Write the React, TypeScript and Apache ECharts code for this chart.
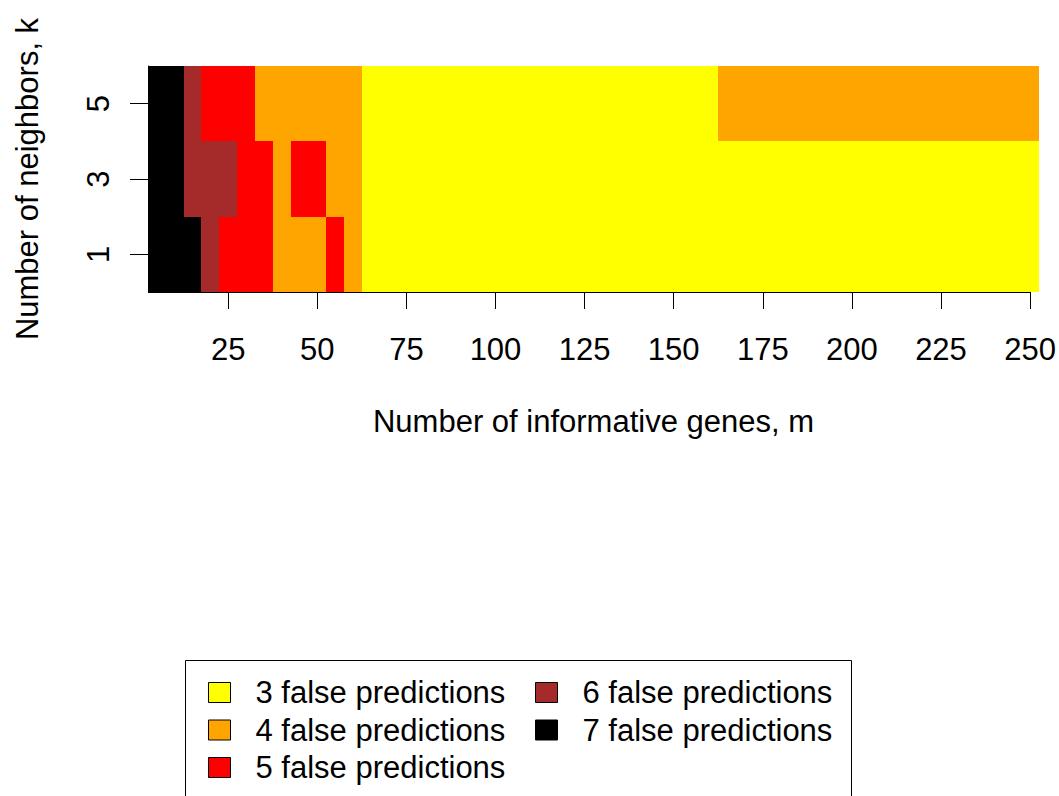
import React, { useEffect, useRef } from "react";
import * as echarts from "echarts";

// Number of informative genes (m), one cell per value
const mValues = [
  5, 10, 15, 20, 25, 30, 35, 40, 45, 50,
  55, 60, 65, 70, 75, 80, 85, 90, 95, 100,
  105, 110, 115, 120, 125, 130, 135, 140, 145, 150,
  155, 160, 165, 170, 175, 180, 185, 190, 195, 200,
  205, 210, 215, 220, 225, 230, 235, 240, 245, 250,
];

// Number of neighbors (k), one row per value
const kValues = [1, 3, 5];

// False predictions for each m, per k
const errorsK1 = [
  7, 7, 7, 6, 5, 5, 5, 4, 4, 4,
  5, 4, 3, 3, 3, 3, 3, 3, 3, 3,
  3, 3, 3, 3, 3, 3, 3, 3, 3, 3,
  3, 3, 3, 3, 3, 3, 3, 3, 3, 3,
  3, 3, 3, 3, 3, 3, 3, 3, 3, 3,
];
const errorsK3 = [
  7, 7, 6, 6, 6, 5, 5, 4, 5, 5,
  4, 4, 3, 3, 3, 3, 3, 3, 3, 3,
  3, 3, 3, 3, 3, 3, 3, 3, 3, 3,
  3, 3, 3, 3, 3, 3, 3, 3, 3, 3,
  3, 3, 3, 3, 3, 3, 3, 3, 3, 3,
];
const errorsK5 = [
  7, 7, 6, 5, 5, 5, 4, 4, 4, 4,
  4, 4, 3, 3, 3, 3, 3, 3, 3, 3,
  3, 3, 3, 3, 3, 3, 3, 3, 3, 3,
  3, 3, 4, 4, 4, 4, 4, 4, 4, 4,
  4, 4, 4, 4, 4, 4, 4, 4, 4, 4,
];
const errorRows = [errorsK1, errorsK3, errorsK5];

// Classes of the colour key
const errorLevels = [3, 4, 5, 6, 7];
const levelNames = [
  "3 false predictions",
  "4 false predictions",
  "5 false predictions",
  "6 false predictions",
  "7 false predictions",
];
const levelColors = ["#FFFF00", "#FFA500", "#FF0000", "#A52A2A", "#000000"];

// Axis ticks
const xTicks = [25, 50, 75, 100, 125, 150, 175, 200, 225, 250];
const yTicks = [1, 3, 5];

const FONT = "'Liberation Sans', Arial, Helvetica, sans-serif";
const FS = 31;

export default function App() {
  const ref = useRef<HTMLDivElement>(null);

  useEffect(() => {
    if (!ref.current) return;
    const chart = echarts.init(ref.current, undefined, { renderer: "svg" });

    const mStep = mValues[1] - mValues[0];
    const kStep = kValues[1] - kValues[0];
    const halfW = mStep / 2;
    const halfH = kStep / 2;
    const xMin = mValues[0] - halfW;
    const xMax = mValues[mValues.length - 1] + halfW;
    const yMin = kValues[0] - halfH;
    const yMax = kValues[kValues.length - 1] + halfH;

    const series: any[] = errorLevels.map((lvl, li) => {
      const data: number[][] = [];
      kValues.forEach((k, ki) => {
        mValues.forEach((m, mi) => {
          if (errorRows[ki][mi] === lvl) data.push([m, k, lvl]);
        });
      });
      const color = levelColors[li];
      const s: any = {
        type: "custom",
        name: levelNames[li],
        coordinateSystem: "cartesian2d",
        itemStyle: { color },
        encode: { x: 0, y: 1 },
        data,
        renderItem: (params: any, api: any) => {
          const m = api.value(0);
          const k = api.value(1);
          const p0 = api.coord([m - halfW, k + halfH]);
          const p1 = api.coord([m + halfW, k - halfH]);
          const x0 = Math.round(p0[0]);
          const y0 = Math.round(p0[1]);
          const x1 = Math.round(p1[0]);
          const y1 = Math.round(p1[1]);
          return {
            type: "rect",
            shape: { x: x0, y: y0, width: x1 - x0, height: y1 - y0 },
            style: { fill: color },
          };
        },
      };
      return s;
    });

    // x axis line, drawn from the left of the image to the last tick (R style)
    series.push({
      type: "line",
      name: "axisline",
      data: [],
      silent: true,
      z: 10,
      markLine: {
        silent: true,
        symbol: "none",
        label: { show: false },
        lineStyle: { color: "#000", width: 1, type: "solid" },
        data: [[{ coord: [xMin, yMin] }, { coord: [xTicks[xTicks.length - 1], yMin] }]],
      },
    });

    const legendCommon = {
      orient: "vertical",
      itemWidth: 22,
      itemHeight: 20,
      itemGap: 6.5,
      padding: 0,
      icon: "rect",
      selectedMode: false,
      itemStyle: { borderColor: "#000", borderWidth: 1 },
      textStyle: {
        fontFamily: FONT,
        fontSize: FS,
        color: "#000",
        lineHeight: 30,
        padding: [0, 0, 0, 20],
      },
    };

    chart.setOption({
      animation: false,
      backgroundColor: "#fff",
      textStyle: { fontFamily: FONT },
      grid: { left: 148, top: 66, width: 891, height: 226 },
      xAxis: {
        type: "value",
        min: xMin,
        max: xMax,
        name: "Number of informative genes, m",
        nameLocation: "middle",
        nameGap: 114,
        nameTextStyle: { fontFamily: FONT, fontSize: FS, color: "#000" },
        axisLine: { show: false },
        axisTick: {
          show: true,
          length: 17,
          customValues: xTicks,
          lineStyle: { color: "#000", width: 1 },
        },
        axisLabel: {
          customValues: xTicks,
          fontFamily: FONT,
          fontSize: FS,
          color: "#000",
          margin: 42,
        },
        splitLine: { show: false },
      },
      yAxis: {
        type: "value",
        min: yMin,
        max: yMax,
        name: "Number of neighbors, k",
        nameLocation: "middle",
        nameGap: 105,
        nameRotate: 90,
        nameTextStyle: { fontFamily: FONT, fontSize: FS, color: "#000" },
        axisLine: { show: true, lineStyle: { color: "#000", width: 1 } },
        axisTick: {
          show: true,
          length: 18,
          customValues: yTicks,
          lineStyle: { color: "#000", width: 1 },
        },
        axisLabel: {
          customValues: yTicks,
          rotate: 90,
          fontFamily: FONT,
          fontSize: FS,
          color: "#000",
          margin: 34,
        },
        splitLine: { show: false },
      },
      legend: [
        { ...legendCommon, left: 208, top: 677, data: levelNames.slice(0, 3) },
        { ...legendCommon, left: 535, top: 677, data: levelNames.slice(3) },
      ],
      graphic: [
        {
          type: "rect",
          left: 183,
          top: 658,
          shape: { width: 666, height: 200 },
          style: { fill: "none", stroke: "#000", lineWidth: 1 },
          silent: true,
        },
      ],
      series,
    });

    return () => chart.dispose();
  }, []);

  return (
    <div
      ref={ref}
      style={{ position: "absolute", left: 0, top: 0, width: 1059, height: 796 }}
    />
  );
}
